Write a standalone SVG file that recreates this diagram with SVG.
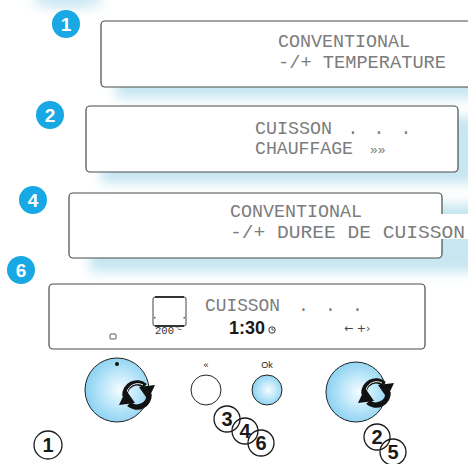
<svg xmlns="http://www.w3.org/2000/svg" width="468" height="464" viewBox="0 0 468 464">
  <style>
    .lcd { font-family: "Liberation Mono", "DejaVu Sans Mono", monospace; font-size: 18px; fill: #7c7c7c; }
    .panel { fill: #ffffff; stroke: #4a4a4a; stroke-width: 1.2; }
    .haze { fill: #c6e6f1; filter: url(#soft); }
    .badge { fill: #18a8e4; }
    .badge-num { font-family: "Liberation Sans Narrow", "Liberation Sans", sans-serif; font-weight: bold; font-size: 19px; fill: #ffffff; text-anchor: middle; }
    .ring { fill: none; stroke: #1a1a1a; stroke-width: 1.3; }
    .ring-num { font-family: "Liberation Sans Narrow", "Liberation Sans", sans-serif; font-weight: bold; font-size: 20px; fill: #1a1a1a; text-anchor: middle; }
    .knob { fill: url(#knobFill); stroke: #222; stroke-width: 1; }
    .lbl { font-family: "Liberation Sans", sans-serif; font-size: 9px; fill: #222; text-anchor: middle; }
  </style>
  <defs>
    <filter id="soft" x="-20%" y="-50%" width="140%" height="200%">
      <feGaussianBlur stdDeviation="6"/>
    </filter>
    <radialGradient id="knobFill" cx="0.55" cy="0.5" r="0.6">
      <stop offset="0" stop-color="#f5fcff"/>
      <stop offset="0.55" stop-color="#b3e3f8"/>
      <stop offset="1" stop-color="#80cdf0"/>
    </radialGradient>
    <!-- rotate symbol: two curved arrows chasing each other -->
    <g id="rotate">
      <path d="M -12,1 A 12 12 0 0 1 8,-9" fill="none" stroke="#111" stroke-width="5.5"/>
      <polygon points="2,-8 18,-10 11,5" fill="#111"/>
      <path d="M -10,-3 A 11 11 0 0 1 6,-10" fill="none" stroke="#e8f4fa" stroke-width="1"/>
      <path d="M 12,-1 A 12 12 0 0 1 -8,9" fill="none" stroke="#111" stroke-width="5.5"/>
      <polygon points="-2,8 -18,10 -11,-5" fill="#111"/>
    </g>
  </defs>

  <!-- soft blue haze behind the display strips -->
  <ellipse cx="68" cy="0" rx="36" ry="8" class="haze"/>
  <rect x="116" y="32" width="380" height="66" class="haze"/>
  <rect x="101" y="117" width="380" height="66" class="haze"/>
  <rect x="90" y="204" width="390" height="68" class="haze"/>

  <!-- display 1 -->
  <g id="panel-1">
    <rect x="101" y="21" width="375" height="66" rx="4" class="panel"/>
    <text class="lcd" x="278" y="47" textLength="132" lengthAdjust="spacingAndGlyphs">CONVENTIONAL</text>
    <text class="lcd" x="278" y="68" textLength="168" lengthAdjust="spacingAndGlyphs">-/+ TEMPERATURE</text>
    <circle cx="66" cy="24" r="14" class="badge"/>
    <text class="badge-num" x="66" y="31">1</text>
  </g>

  <!-- display 2 -->
  <g id="panel-2">
    <rect x="86" y="106" width="372" height="66" rx="4" class="panel"/>
    <text class="lcd" x="255" y="134"><tspan textLength="77" lengthAdjust="spacingAndGlyphs">CUISSON</tspan><tspan x="347.5">.</tspan><tspan x="373.5">.</tspan><tspan x="400.5">.</tspan></text>
    <text class="lcd" x="255" y="154"><tspan textLength="98" lengthAdjust="spacingAndGlyphs">CHAUFFAGE</tspan><tspan x="370" font-size="13">»»</tspan></text>
    <circle cx="50" cy="115" r="14" class="badge"/>
    <text class="badge-num" x="50" y="122">2</text>
  </g>

  <!-- display 4 -->
  <g id="panel-4">
    <rect x="69" y="193" width="373" height="65" rx="4" class="panel"/>
    <rect x="438" y="214" width="30" height="25" fill="#ffffff"/>
    <text class="lcd" x="230" y="217" textLength="132" lengthAdjust="spacingAndGlyphs">CONVENTIONAL</text>
    <text class="lcd" x="230" y="238" textLength="235" lengthAdjust="spacingAndGlyphs">-/+ DUREE DE CUISSON</text>
    <circle cx="33" cy="200" r="14" class="badge"/>
    <text class="badge-num" x="33" y="207">4</text>
  </g>

  <!-- display 6 with oven symbol and timer -->
  <g id="panel-6">
    <rect x="49" y="284" width="376" height="65" rx="4" class="panel"/>
    <circle cx="21" cy="270" r="14" class="badge"/>
    <text class="badge-num" x="21" y="277">6</text>
    <!-- oven cavity -->
    <path d="M 155,297 Q 153,297 153,299 L 153,324 Q 153,326 155,326 M 184,297 Q 186,297 186,299 L 186,324 Q 186,326 184,326" fill="none" stroke="#444" stroke-width="1"/>
    <line x1="155" y1="297" x2="184" y2="297" stroke="#333" stroke-width="2"/>
    <line x1="155" y1="326" x2="184" y2="326" stroke="#333" stroke-width="2"/>
    <rect x="154" y="317" width="1.5" height="1.5" fill="#555"/>
    <rect x="183.5" y="317" width="1.5" height="1.5" fill="#555"/>
    <text x="155" y="334" font-family="Liberation Mono, monospace" font-size="10" fill="#333" textLength="19" lengthAdjust="spacingAndGlyphs">200</text>
    <text x="175" y="330" font-family="Liberation Sans, sans-serif" font-size="6" fill="#333">°C</text>
    <text class="lcd" x="205" y="311"><tspan textLength="75" lengthAdjust="spacingAndGlyphs">CUISSON</tspan><tspan x="298">.</tspan><tspan x="325">.</tspan><tspan x="352">.</tspan></text>
    <text x="229" y="334" font-family="Liberation Sans Narrow, Liberation Sans, sans-serif" font-size="19" font-weight="bold" fill="#1a1a1a" textLength="36" lengthAdjust="spacingAndGlyphs">1:30</text>
    <circle cx="272" cy="330" r="3.2" fill="none" stroke="#333" stroke-width="1"/>
    <path d="M 272,328 L 272,330 L 273.8,330" fill="none" stroke="#333" stroke-width="0.8"/>
    <rect x="110" y="334" width="6" height="5" rx="1" fill="none" stroke="#444" stroke-width="0.9"/>
    <text x="344" y="332" font-family="DejaVu Sans, sans-serif" font-size="11" fill="#444">← +›</text>
  </g>

  <!-- left selector knob -->
  <g id="knob-left">
    <circle cx="117" cy="390" r="32" class="knob"/>
    <circle cx="117" cy="364" r="2" fill="#111"/>
    <use href="#rotate" transform="translate(137,395)"/>
  </g>

  <!-- back button -->
  <g id="button-back">
    <text class="lbl" x="206" y="368" font-size="12">«</text>
    <circle cx="206" cy="390" r="15" fill="#ffffff" stroke="#222" stroke-width="1"/>
  </g>

  <!-- confirm button -->
  <g id="button-ok">
    <text class="lbl" x="267" y="368">Ok</text>
    <circle cx="267" cy="390" r="15" class="knob"/>
  </g>

  <!-- right adjust knob -->
  <g id="knob-right">
    <circle cx="356" cy="392" r="30" class="knob"/>
    <use href="#rotate" transform="translate(376,393)"/>
  </g>

  <!-- step references -->
  <g id="steps">
    <circle cx="48" cy="445" r="14" class="ring"/>
    <text class="ring-num" x="48" y="452">1</text>
    <circle cx="227" cy="419" r="13" class="ring"/>
    <text class="ring-num" x="227" y="426">3</text>
    <circle cx="245" cy="431" r="13" class="ring"/>
    <text class="ring-num" x="245" y="438">4</text>
    <circle cx="261" cy="443" r="13" class="ring"/>
    <text class="ring-num" x="261" y="450">6</text>
    <circle cx="377" cy="437" r="13" class="ring"/>
    <text class="ring-num" x="377" y="444">2</text>
    <circle cx="393" cy="452" r="13" class="ring"/>
    <text class="ring-num" x="393" y="459">5</text>
  </g>
</svg>
